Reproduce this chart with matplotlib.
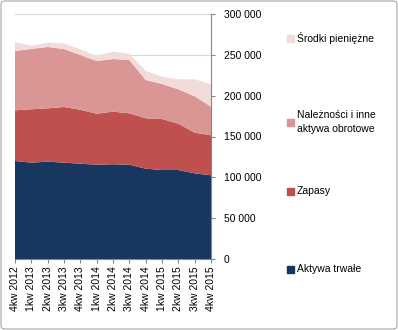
import matplotlib.pyplot as plt
import numpy as np
from matplotlib.patches import Rectangle, FancyBboxPatch
from matplotlib.ticker import FuncFormatter

quarters = ['4kw 2012', '1kw 2013', '2kw 2013', '3kw 2013', '4kw 2013',
            '1kw 2014', '2kw 2014', '3kw 2014', '4kw 2014',
            '1kw 2015', '2kw 2015', '3kw 2015', '4kw 2015']

aktywa_trwale = [120000, 118000, 119200, 118000, 116700, 115500, 116000,
                 115500, 110600, 109000, 109000, 104900, 102500]
zapasy = [62100, 65300, 65300, 68100, 66100, 62400, 64400,
          62900, 61700, 62400, 56700, 49800, 49000]
naleznosci = [72600, 73900, 75100, 71000, 67000, 64500, 64500,
              65300, 46900, 42900, 42100, 44600, 35000]
srodki = [10700, 4000, 5300, 7000, 7000, 6500, 8900,
          7700, 11400, 8900, 12200, 20800, 27400]

labels = ['Aktywa trwałe', 'Zapasy', 'Należności i inne\naktywa obrotowe',
          'Środki pieniężne']
colors = ['#17375E', '#C0504D', '#D99694', '#F2DCDB']

plt.rcParams['font.family'] = ['Liberation Sans', 'DejaVu Sans']

fig = plt.figure(figsize=(3.98, 3.30), dpi=100)
ax = fig.add_axes([15 / 398, 71 / 330, 196 / 398, 245 / 330])

x = np.arange(len(quarters))
ax.stackplot(x, aktywa_trwale, zapasy, naleznosci, srodki, colors=colors,
             linewidth=0, zorder=2)

ax.set_xlim(0, len(quarters) - 1)
ax.set_ylim(0, 300000)
ax.set_yticks(np.arange(0, 300001, 50000))
ax.yaxis.set_major_formatter(FuncFormatter(lambda v, p: f'{int(v):,}'.replace(',', ' ')))
ax.yaxis.tick_right()
ax.grid(axis='y', color='#D9D9D9', linewidth=0.8, zorder=0)
ax.set_axisbelow(True)

ax.set_xticks(x)
ax.set_xticklabels(quarters, rotation=90, fontsize=7.5)
ax.tick_params(axis='y', labelsize=7.5, length=3, color='#868686', pad=6)
ax.tick_params(axis='x', length=3, color='#868686', pad=2)

for side in ['top', 'left']:
    ax.spines[side].set_visible(False)
for side in ['right', 'bottom']:
    ax.spines[side].set_color('#868686')
    ax.spines[side].set_linewidth(0.8)

# legend entries, Excel style spread down the right side
legend_y = [269, 191, 122, 38]
for lab, col, ly in zip(labels, colors, legend_y):
    fig.patches.append(Rectangle((287 / 398, (330 - ly - 4) / 330), 7 / 398, 7 / 330,
                                 transform=fig.transFigure, color=col))
    fig.text(297 / 398, (330 - ly) / 330, lab, fontsize=7.5, va='center',
             ha='left', linespacing=1.6)

fig.patches.append(FancyBboxPatch((1 / 398, 1 / 330), 396 / 398, 328 / 330,
                                  boxstyle='round,pad=0,rounding_size=0.01',
                                  transform=fig.transFigure, fill=False,
                                  edgecolor='#A6A6A6', linewidth=0.8))

fig.savefig('out.png', dpi=100)
